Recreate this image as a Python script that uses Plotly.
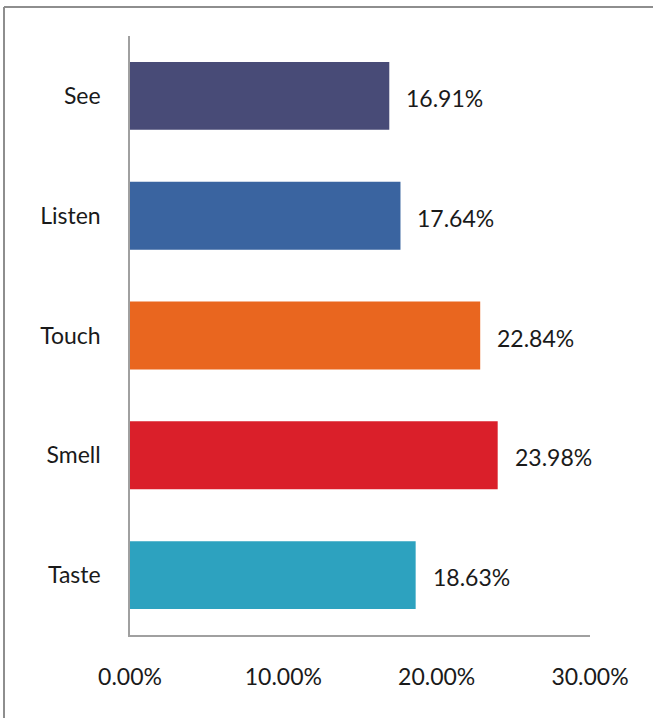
import plotly.graph_objects as go

# Sense categories, top to bottom, with their shares
senses = ["See", "Listen", "Touch", "Smell", "Taste"]
shares = [0.1691, 0.1764, 0.2284, 0.2398, 0.1863]
bar_colors = ["#484B77", "#3A64A0", "#E9661F", "#DA1F2A", "#2DA2BF"]
x_ticks = [0.0, 0.1, 0.2, 0.3]

W, H = 653, 718
L, R, T, B = 130, 63, 36, 83
FONT = "Lato, Calibri, Carlito, sans-serif"
TXT = "#1A1A1A"
AXIS = "#A0A0A0"

fig = go.Figure()
fig.add_trace(go.Bar(
    y=senses,
    x=shares,
    orientation="h",
    marker=dict(color=bar_colors, line=dict(width=0)),
    hoverinfo="skip",
))

# Value labels just past the end of each bar
for s, v in zip(senses, shares):
    fig.add_annotation(
        x=v, y=s, xref="x", yref="y",
        text=f"{v * 100:.2f}%",
        showarrow=False, xanchor="left", yanchor="middle",
        xshift=15, yshift=-2,
        font=dict(family=FONT, size=23, color=TXT),
    )

# Outer chart frame (left and top edges)
pw = W - L - R
ph = H - T - B
def px_x(p):
    return (p - L) / pw
def px_y(p):
    return 1 - (p - T) / ph

frame = dict(color="#8E8E8E", width=2)
fig.add_shape(type="line", xref="paper", yref="paper",
              x0=px_x(4), x1=px_x(W + 5), y0=px_y(7), y1=px_y(7), line=frame)
fig.add_shape(type="line", xref="paper", yref="paper",
              x0=px_x(4), x1=px_x(4), y0=px_y(7), y1=px_y(H + 5), line=frame)

fig.update_layout(
    width=W, height=H,
    margin=dict(l=L, r=R, t=T, b=B, pad=0),
    paper_bgcolor="white",
    plot_bgcolor="white",
    showlegend=False,
    bargap=0.433,
    font=dict(family=FONT, size=23, color=TXT),
    xaxis=dict(
        range=[0, 0.30],
        tickvals=x_ticks,
        tickformat=".2%",
        showgrid=False,
        zeroline=False,
        showline=True,
        linecolor=AXIS,
        linewidth=1.5,
        ticks="",
        ticklabelstandoff=21,
        tickfont=dict(family=FONT, size=23, color=TXT),
    ),
    yaxis=dict(
        categoryorder="array",
        categoryarray=senses,
        autorange="reversed",
        showgrid=False,
        zeroline=False,
        showline=True,
        linecolor=AXIS,
        linewidth=1.5,
        ticks="",
        ticklabelstandoff=23,
        tickfont=dict(family=FONT, size=23, color=TXT),
    ),
)

fig.write_html("out.html")
